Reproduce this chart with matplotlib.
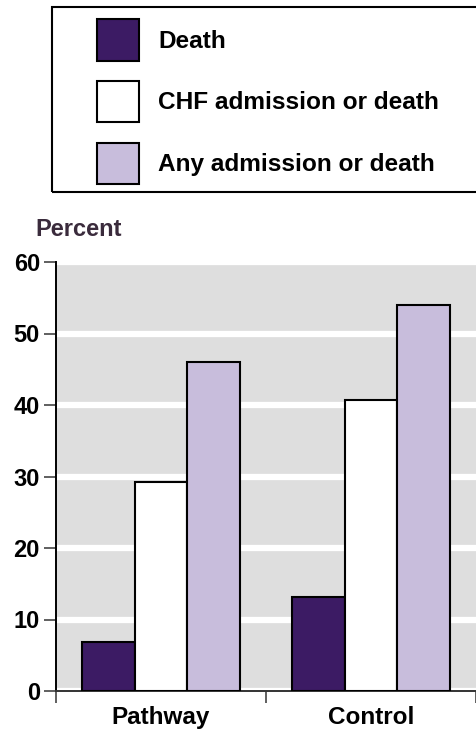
import matplotlib
matplotlib.use("Agg")
import matplotlib.pyplot as plt
from matplotlib.patches import Rectangle
import numpy as np

plt.rcParams["font.family"] = ["Liberation Sans", "DejaVu Sans"]
plt.rcParams["font.weight"] = "bold"

groups = ["Pathway", "Control"]
outcomes = ["Death", "CHF admission or death", "Any admission or death"]
death = [6.8, 13.2]
chf_or_death = [29.3, 40.7]
any_or_death = [46.0, 54.0]
yticks = [0, 10, 20, 30, 40, 50, 60]

colors = ["#3c1b64", "#ffffff", "#c8bddc"]
series = [death, chf_or_death, any_or_death]

W, H = 477, 729
fig = plt.figure(figsize=(W / 100, H / 100), dpi=100)
ax = fig.add_axes([56 / W, 1 - 691 / H, 420 / W, (691 - 262) / H])
ax.set_facecolor("#dedede")

x = np.arange(len(groups))
width = 0.25
handles = []
for i, (vals, c, name) in enumerate(zip(series, colors, outcomes)):
    b = ax.bar(x + (i - 1) * width, vals, width, color=c, edgecolor="black",
               linewidth=1.5, label=name, zorder=3)
    handles.append(b)

ax.set_xlim(-0.5, 1.5)
ax.set_ylim(0, 60)
ax.set_yticks(yticks)
ax.yaxis.grid(True, color="white", lw=4.5, zorder=1)
ax.set_axisbelow(True)

ax.set_xticks(x)
ax.set_xticklabels(groups, fontsize=17.5, fontweight="bold")
ax.set_xticks([-0.5, 0.5, 1.5], minor=True)
ax.tick_params(axis="x", which="major", length=0, pad=11)
ax.tick_params(axis="x", which="minor", length=8.6, width=1.2, color="#444444",
               direction="out")
ax.tick_params(axis="y", length=8.6, width=1.2, color="#444444", pad=3,
               labelsize=17)
for lab in ax.get_yticklabels():
    lab.set_fontweight("bold")

for s in ("top", "right"):
    ax.spines[s].set_visible(False)
ax.spines["left"].set_color("black")
ax.spines["left"].set_linewidth(1.4)
ax.spines["bottom"].set_color("#333333")
ax.spines["bottom"].set_linewidth(1.4)

fig.text(35 / W, 1 - 236 / H, "Percent", fontsize=17, fontweight="bold",
         color="#3a2b3c", ha="left", va="baseline")

# legend box: frame drawn separately so it can run off the right edge
fs = 17.6
fig.legend(handles=handles, labels=outcomes, loc="upper left",
           bbox_to_anchor=(97 / W, 1 - 19.5 / H), frameon=False,
           prop={"weight": "bold", "size": fs},
           handlelength=42 / 24.4, handleheight=2.21,
           labelspacing=0.84, handletextpad=0.78, borderpad=0,
           borderaxespad=0)
fig.add_artist(Rectangle((52 / W, 1 - 191.7 / H), (W + 10 - 52) / W,
                         (191.7 - 7.3) / H, transform=fig.transFigure,
                         fill=False, edgecolor="black", linewidth=1.5))

fig.savefig("out.png", dpi=100)
